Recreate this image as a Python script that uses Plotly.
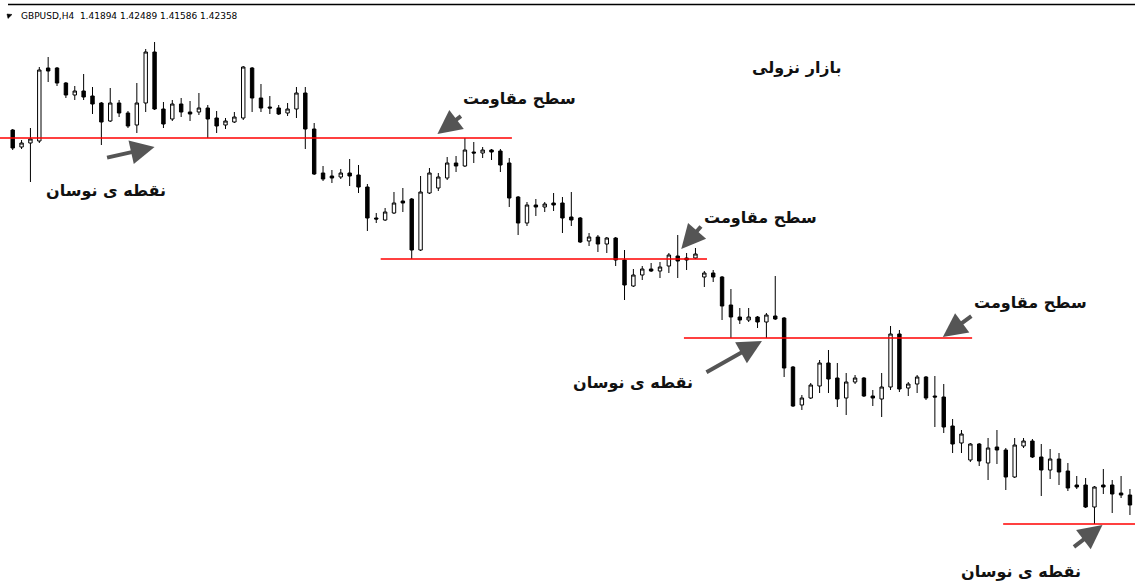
import plotly.graph_objects as go

# GBPUSD H4 candles (oldest first)
opens = [1.4370, 1.4353, 1.4357, 1.4359, 1.4432, 1.4432, 1.4417, 1.4405, 1.4409, 1.4404,
         1.4397, 1.4379, 1.4397, 1.4387, 1.4375, 1.4397, 1.4448, 1.4391, 1.4381, 1.4396,
         1.4388, 1.4388, 1.4392, 1.4382, 1.4375, 1.4378, 1.4382, 1.4432, 1.4402, 1.4393,
         1.4392, 1.4387, 1.4391, 1.4407, 1.4371, 1.4327, 1.4324, 1.4323, 1.4327, 1.4325,
         1.4313, 1.4282, 1.4280, 1.4287, 1.4299, 1.4301, 1.4250, 1.4307, 1.4312, 1.4322,
         1.4337, 1.4334, 1.4348, 1.4347, 1.4350, 1.4349, 1.4337, 1.4303, 1.4277, 1.4295,
         1.4293, 1.4297, 1.4297, 1.4283, 1.4282, 1.4259, 1.4263, 1.4256, 1.4262, 1.4240,
         1.4214, 1.4225, 1.4231, 1.4229, 1.4234, 1.4244, 1.4242, 1.4242, 1.4223, 1.4227,
         1.4223, 1.4195, 1.4183, 1.4180, 1.4183, 1.4178, 1.4184, 1.4182, 1.4133, 1.4095,
         1.4102, 1.4114, 1.4137, 1.4122, 1.4102, 1.4118, 1.4122, 1.4104, 1.4101, 1.4113,
         1.4166, 1.4112, 1.4116, 1.4123, 1.4104, 1.4103, 1.4074, 1.4057, 1.4040, 1.4056,
         1.4037, 1.4053, 1.4050, 1.4023, 1.4054, 1.4059, 1.4043, 1.4030, 1.4041, 1.4029,
         1.4015, 1.4015, 1.3993, 1.4015, 1.4015, 1.4007, 1.4005]
highs = [1.4371, 1.4360, 1.4372, 1.4433, 1.4443, 1.4433, 1.4418, 1.4414, 1.4426, 1.4413,
         1.4398, 1.4412, 1.4400, 1.4389, 1.4417, 1.4451, 1.4458, 1.4398, 1.4400, 1.4402,
         1.4399, 1.4407, 1.4395, 1.4389, 1.4382, 1.4388, 1.4434, 1.4433, 1.4416, 1.4404,
         1.4395, 1.4397, 1.4413, 1.4413, 1.4377, 1.4334, 1.4330, 1.4331, 1.4341, 1.4335,
         1.4316, 1.4287, 1.4292, 1.4308, 1.4312, 1.4302, 1.4324, 1.4332, 1.4327, 1.4343,
         1.4344, 1.4362, 1.4358, 1.4353, 1.4351, 1.4351, 1.4342, 1.4304, 1.4298, 1.4301,
         1.4298, 1.4307, 1.4303, 1.4308, 1.4283, 1.4267, 1.4265, 1.4263, 1.4263, 1.4250,
         1.4231, 1.4234, 1.4237, 1.4238, 1.4247, 1.4265, 1.4247, 1.4252, 1.4229, 1.4230,
         1.4224, 1.4211, 1.4192, 1.4192, 1.4184, 1.4187, 1.4224, 1.4183, 1.4134, 1.4105,
         1.4117, 1.4140, 1.4150, 1.4137, 1.4127, 1.4125, 1.4123, 1.4110, 1.4127, 1.4174,
         1.4170, 1.4118, 1.4125, 1.4124, 1.4124, 1.4116, 1.4081, 1.4070, 1.4057, 1.4057,
         1.4062, 1.4070, 1.4052, 1.4062, 1.4062, 1.4061, 1.4056, 1.4051, 1.4047, 1.4037,
         1.4024, 1.4022, 1.4014, 1.4031, 1.4020, 1.4024, 1.4011]
lows = [1.4350, 1.4351, 1.4318, 1.4357, 1.4418, 1.4414, 1.4402, 1.4400, 1.4400, 1.4386,
        1.4355, 1.4378, 1.4383, 1.4372, 1.4367, 1.4388, 1.4390, 1.4372, 1.4379, 1.4383,
        1.4379, 1.4385, 1.4362, 1.4367, 1.4371, 1.4377, 1.4380, 1.4388, 1.4388, 1.4386,
        1.4385, 1.4384, 1.4382, 1.4351, 1.4325, 1.4319, 1.4317, 1.4321, 1.4314, 1.4307,
        1.4269, 1.4277, 1.4279, 1.4286, 1.4288, 1.4241, 1.4249, 1.4306, 1.4309, 1.4320,
        1.4328, 1.4333, 1.4337, 1.4342, 1.4340, 1.4328, 1.4293, 1.4265, 1.4274, 1.4284,
        1.4288, 1.4289, 1.4267, 1.4274, 1.4257, 1.4254, 1.4248, 1.4247, 1.4234, 1.4200,
        1.4213, 1.4220, 1.4228, 1.4222, 1.4227, 1.4222, 1.4230, 1.4241, 1.4213, 1.4218,
        1.4180, 1.4162, 1.4176, 1.4178, 1.4172, 1.4162, 1.4180, 1.4123, 1.4093, 1.4090,
        1.4101, 1.4107, 1.4107, 1.4093, 1.4085, 1.4116, 1.4103, 1.4094, 1.4083, 1.4110,
        1.4108, 1.4104, 1.4107, 1.4100, 1.4073, 1.4067, 1.4047, 1.4047, 1.4038, 1.4034,
        1.4020, 1.4036, 1.4010, 1.4022, 1.4052, 1.4042, 1.4004, 1.4021, 1.4015, 1.4009,
        1.4011, 1.3992, 1.3976, 1.4006, 1.3987, 1.4002, 1.3985]
closes = [1.4352, 1.4357, 1.4361, 1.4430, 1.4429, 1.4417, 1.4405, 1.4409, 1.4403, 1.4396,
          1.4378, 1.4397, 1.4387, 1.4374, 1.4397, 1.4448, 1.4391, 1.4376, 1.4396, 1.4388,
          1.4386, 1.4392, 1.4381, 1.4374, 1.4379, 1.4383, 1.4433, 1.4402, 1.4392, 1.4392,
          1.4386, 1.4391, 1.4407, 1.4371, 1.4326, 1.4321, 1.4322, 1.4327, 1.4324, 1.4313,
          1.4282, 1.4281, 1.4288, 1.4297, 1.4297, 1.4250, 1.4308, 1.4327, 1.4323, 1.4337,
          1.4334, 1.4350, 1.4347, 1.4350, 1.4348, 1.4335, 1.4302, 1.4277, 1.4295, 1.4293,
          1.4296, 1.4295, 1.4282, 1.4280, 1.4258, 1.4263, 1.4256, 1.4262, 1.4240, 1.4215,
          1.4225, 1.4231, 1.4229, 1.4233, 1.4245, 1.4239, 1.4240, 1.4246, 1.4227, 1.4223,
          1.4194, 1.4183, 1.4180, 1.4183, 1.4178, 1.4185, 1.4181, 1.4132, 1.4094, 1.4102,
          1.4115, 1.4137, 1.4121, 1.4101, 1.4118, 1.4122, 1.4104, 1.4102, 1.4113, 1.4166,
          1.4111, 1.4116, 1.4123, 1.4102, 1.4103, 1.4073, 1.4056, 1.4066, 1.4056, 1.4039,
          1.4052, 1.4050, 1.4023, 1.4055, 1.4059, 1.4043, 1.4030, 1.4041, 1.4028, 1.4012,
          1.4013, 1.3993, 1.4013, 1.4013, 1.4006, 1.4005, 1.3995]
bars = list(range(len(opens)))

# horizontal levels: (price, first bar, last bar)
levels = [(1.4362, -1.5, 56.3), (1.4241, 41.5, 78.3), (1.4162, 75.7, 108.2), (1.3976, 111.7, 127)]

title_text = "بازار نزولی"
resist_text = "سطح مقاومت"
swing_text = "نقطه ی نوسان"
header_text = "GBPUSD,H4  1.41894 1.42489 1.41586 1.42358"

fig = go.Figure()
fig.add_trace(go.Candlestick(
    x=bars, open=opens, high=highs, low=lows, close=closes,
    increasing=dict(line=dict(color="black", width=1), fillcolor="white"),
    decreasing=dict(line=dict(color="black", width=1), fillcolor="black"),
    whiskerwidth=0, showlegend=False))

for price, x0, x1 in levels:
    fig.add_shape(type="line", x0=x0, x1=x1, y0=price, y1=price,
                  line=dict(color="#ff0000", width=1.3), layer="above")

arabic = dict(family="DejaVu Sans", size=16, color="#111111")

# labels (bar, price)
labels = [(title_text, 88.4, 1.4433),
          (resist_text, 57.2, 1.4402), (resist_text, 84.3, 1.4283), (resist_text, 114.8, 1.4198),
          (swing_text, 10.5, 1.4310), (swing_text, 69.9, 1.4118), (swing_text, 113.7, 1.3929)]
for txt, bx, py in labels:
    fig.add_annotation(x=bx, y=py, text="<b>" + txt + "</b>", showarrow=False, font=arabic)

# arrows: head (bar, price) and tail offset in pixels
arrows = [(16.0, 1.4353, -49, 11), (47.9, 1.4366, 25, -19), (75.4, 1.4251, 21, -24),
          (84.5, 1.4159, -57, 32), (104.9, 1.4163, 30, -22), (122.9, 1.3975, -30, 23)]
for hx, hy, ax, ay in arrows:
    fig.add_annotation(x=hx, y=hy, ax=ax, ay=ay, text="", showarrow=True,
                       arrowhead=2, arrowsize=1.2, arrowwidth=4, arrowcolor="#555555")

# terminal style header
fig.add_annotation(xref="paper", yref="paper", x=19 / 1135, y=1 - 16 / 583,
                   xanchor="left", yanchor="middle",
                   text=header_text, showarrow=False,
                   font=dict(family="DejaVu Sans", size=9, color="black"))
fig.add_shape(type="path", xref="paper", yref="paper",
              path="M %f,%f L %f,%f L %f,%f Z" % (7 / 1135, 1 - 14 / 583, 12 / 1135, 1 - 14.5 / 583,
                                                   8 / 1135, 1 - 18.5 / 583),
              fillcolor="black", line=dict(color="black", width=0.5))
fig.add_shape(type="line", xref="paper", yref="paper", x0=8 / 1135, x1=1, y0=1 - 4.5 / 583,
              y1=1 - 4.5 / 583, line=dict(color="black", width=1.5))

fig.update_layout(
    width=1135, height=583,
    margin=dict(l=0, r=0, t=0, b=0),
    paper_bgcolor="white", plot_bgcolor="white",
    boxgap=0.45,
    xaxis=dict(range=[-1.432, 126.57], visible=False, rangeslider=dict(visible=False)),
    yaxis=dict(range=[1.3917, 1.4500], visible=False),
)

fig.write_html("out.html", config={"displayModeBar": False},
               post_script="document.body.style.margin='0';")
